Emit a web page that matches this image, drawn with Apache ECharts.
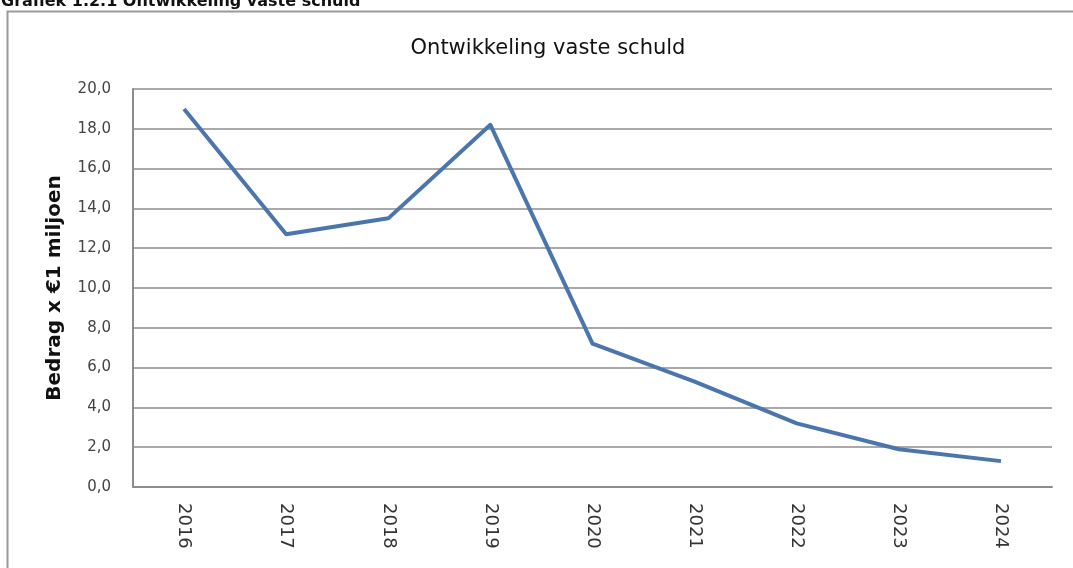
<!DOCTYPE html>
<html>
<head>
<meta charset="utf-8">
<style>
  html, body { margin: 0; padding: 0; background: #fff; }
  #chart { width: 1073px; height: 568px; }
</style>
<script src="https://cdn.jsdelivr.net/npm/echarts@6/dist/echarts.min.js"></script>
</head>
<body>
<div id="chart"></div>
<script>
// Vaste schuld per jaar (bedrag x €1 miljoen)
const years = ['2016', '2017', '2018', '2019', '2020', '2021', '2022', '2023', '2024'];
const vasteSchuld = [19.0, 12.7, 13.5, 18.2, 7.2, 5.3, 3.2, 1.9, 1.3];
const yTicks = [0, 2, 4, 6, 8, 10, 12, 14, 16, 18, 20];

const chart = echarts.init(document.getElementById('chart'), null, { renderer: 'canvas' });

const fmt = v => v.toFixed(1).replace('.', ',');
const FONT = '"DejaVu Sans", Verdana, sans-serif';

chart.setOption({
  animation: false,
  backgroundColor: '#ffffff',
  graphic: [
    {
      type: 'text',
      left: 1,
      top: -6,
      style: {
        text: 'Grafiek 1.2.1 Ontwikkeling vaste schuld',
        font: 'bold 16px ' + FONT,
        fill: '#111'
      }
    },
    {
      type: 'rect',
      shape: { x: 7.5, y: 11.5, width: 2000, height: 1000 },
      style: { fill: 'none', stroke: '#9a9a9a', lineWidth: 2 },
      z: -1
    }
  ],
  title: {
    text: 'Ontwikkeling vaste schuld',
    left: 543,
    textAlign: 'center',
    top: 33,
    textStyle: {
      fontFamily: FONT,
      fontSize: 21,
      fontWeight: 'normal',
      color: '#111'
    }
  },
  grid: {
    left: 133,
    right: 21,
    top: 89,
    bottom: 81,
    containLabel: false,
    show: false
  },
  xAxis: {
    type: 'category',
    data: years,
    boundaryGap: true,
    axisLine: { show: true, lineStyle: { color: '#8c8c8c', width: 2 } },
    axisTick: { show: false },
    axisLabel: {
      rotate: -90,
      margin: 16,
      color: '#333',
      fontFamily: FONT,
      fontSize: 18
    },
    splitLine: { show: false }
  },
  yAxis: {
    type: 'value',
    min: yTicks[0],
    max: yTicks[yTicks.length - 1],
    interval: 2,
    name: 'Bedrag x €1 miljoen',
    nameLocation: 'middle',
    nameGap: 68,
    nameRotate: 90,
    nameTextStyle: {
      fontFamily: FONT,
      fontSize: 20,
      fontWeight: 'bold',
      color: '#111'
    },
    axisLine: { show: true, lineStyle: { color: '#8c8c8c', width: 2 } },
    axisTick: { show: false },
    axisLabel: {
      margin: 22,
      color: '#444',
      fontFamily: FONT,
      fontSize: 15,
      formatter: v => fmt(v)
    },
    splitLine: { show: true, lineStyle: { color: '#8c8c8c', width: 1.5 } }
  },
  series: [
    {
      type: 'line',
      data: vasteSchuld,
      symbol: 'none',
      lineStyle: { color: '#4a75ad', width: 4, join: 'round' },
      itemStyle: { color: '#4a75ad' }
    }
  ]
});
</script>
</body>
</html>
